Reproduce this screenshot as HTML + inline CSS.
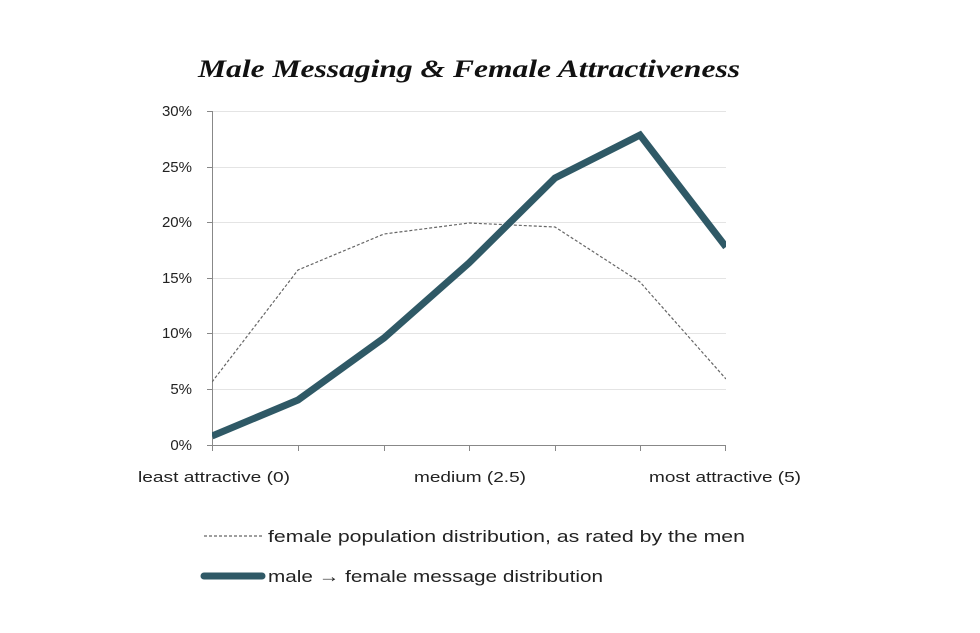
<!DOCTYPE html>
<html><head><meta charset="utf-8"><style>
html,body{margin:0;padding:0;background:#fff;}
svg{display:block;}
</style></head><body>
<svg width="980" height="633" viewBox="0 0 980 633" xmlns="http://www.w3.org/2000/svg">
<rect width="980" height="633" fill="#fff"/>
<text x="198" y="77" textLength="542" lengthAdjust="spacingAndGlyphs" font-family="'Liberation Serif',serif" font-weight="bold" font-style="italic" font-size="25" fill="#111">Male Messaging &amp; Female Attractiveness</text>
<g stroke="#e4e4e4" stroke-width="1">
<line x1="212" y1="111.5" x2="726" y2="111.5"/>
<line x1="212" y1="167.5" x2="726" y2="167.5"/>
<line x1="212" y1="222.5" x2="726" y2="222.5"/>
<line x1="212" y1="278.5" x2="726" y2="278.5"/>
<line x1="212" y1="333.5" x2="726" y2="333.5"/>
<line x1="212" y1="389.5" x2="726" y2="389.5"/>
</g>
<g stroke="#888" stroke-width="1" fill="none">
<line x1="212.5" y1="111" x2="212.5" y2="445"/>
<line x1="207" y1="445.5" x2="726" y2="445.5"/>
<line x1="207" y1="111.5" x2="212" y2="111.5"/>
<line x1="207" y1="167.5" x2="212" y2="167.5"/>
<line x1="207" y1="222.5" x2="212" y2="222.5"/>
<line x1="207" y1="278.5" x2="212" y2="278.5"/>
<line x1="207" y1="333.5" x2="212" y2="333.5"/>
<line x1="207" y1="389.5" x2="212" y2="389.5"/>
<line x1="212.5" y1="445" x2="212.5" y2="451"/>
<line x1="298.5" y1="445" x2="298.5" y2="451"/>
<line x1="384.5" y1="445" x2="384.5" y2="451"/>
<line x1="469.5" y1="445" x2="469.5" y2="451"/>
<line x1="555.5" y1="445" x2="555.5" y2="451"/>
<line x1="640.5" y1="445" x2="640.5" y2="451"/>
<line x1="725.5" y1="445" x2="725.5" y2="451"/>
</g>
<g font-family="'Liberation Sans',sans-serif" font-size="15" fill="#222" text-anchor="end">
<text x="192" y="116">30%</text>
<text x="192" y="172">25%</text>
<text x="192" y="227">20%</text>
<text x="192" y="283">15%</text>
<text x="192" y="338">10%</text>
<text x="192" y="394">5%</text>
<text x="192" y="450">0%</text>
</g>
<g font-family="'Liberation Sans',sans-serif" font-size="15" fill="#222">
<text x="138" y="482" textLength="152" lengthAdjust="spacingAndGlyphs">least attractive (0)</text>
<text x="414" y="482" textLength="112" lengthAdjust="spacingAndGlyphs">medium (2.5)</text>
<text x="649" y="482" textLength="152" lengthAdjust="spacingAndGlyphs">most attractive (5)</text>
</g>
<defs><clipPath id="c"><rect x="212" y="100" width="514" height="346"/></clipPath></defs>
<g clip-path="url(#c)" fill="none" stroke-linejoin="miter">
<polyline points="212,382 298,270 384,234 469,223 555,227 640,282 726,379" stroke="#666" stroke-width="1.2" stroke-dasharray="3,2"/>
<polyline points="212,436 298,400 384,338 469,263 555,178 640,135 726,247" stroke="#2f5966" stroke-width="7"/>
</g>
<line x1="204" y1="536" x2="264" y2="536" stroke="#666" stroke-width="1.2" stroke-dasharray="3,2"/>
<text x="268" y="542" textLength="477" lengthAdjust="spacingAndGlyphs" font-family="'Liberation Sans',sans-serif" font-size="17" fill="#222">female population  distribution, as rated by the men</text>
<line x1="204" y1="576" x2="262" y2="576" stroke="#2f5966" stroke-width="7" stroke-linecap="round"/>
<text x="268" y="582" textLength="335" lengthAdjust="spacingAndGlyphs" font-family="'Liberation Sans',sans-serif" font-size="17" fill="#222">male → female message  distribution</text>
</svg>
</body></html>
